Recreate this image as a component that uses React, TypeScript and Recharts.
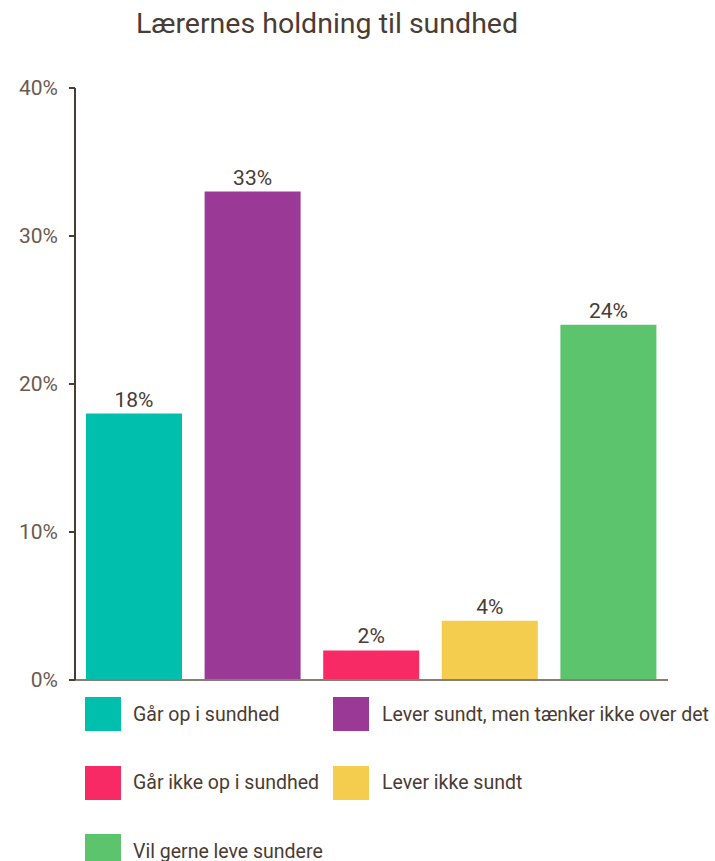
import { Bar, BarChart, Cell, LabelList, XAxis, YAxis } from "recharts";

const categories = [
  "Går op i sundhed",
  "Lever sundt, men tænker ikke over det",
  "Går ikke op i sundhed",
  "Lever ikke sundt",
  "Vil gerne leve sundere",
];
const shares = [18, 33, 2, 4, 24];
const colors = ["#00bfad", "#9a3a96", "#f72a66", "#f4cc4e", "#5cc46c"];
const yTicks = [0, 10, 20, 30, 40];

const textColor = "#4a3b33";
const font = "Roboto, 'Noto Sans', sans-serif";

const data = categories.map((name, i) => ({ name, value: shares[i] }));

export default function App() {
  return (
    <div style={{ position: "absolute", left: 0, top: 0, width: 715, height: 861, background: "#fff", fontFamily: font }}>
      <div style={{ position: "absolute", left: 136, top: 8, fontSize: 28.5, lineHeight: "32px", color: textColor, whiteSpace: "nowrap" }}>
        Lærernes holdning til sundhed
      </div>
      <div style={{ position: "absolute", left: 0, top: 0 }}>
        <BarChart width={715} height={700} data={data} margin={{ top: 88, right: 47, bottom: 19, left: 15 }} barSize={96}>
          <XAxis dataKey="name" tick={false} tickLine={false} height={1} axisLine={{ stroke: "#8a7d75", strokeWidth: 2 }} />
          <YAxis
            width={60}
            domain={[0, 40]}
            ticks={yTicks}
            interval={0}
            tickFormatter={(v) => `${v}%`}
            axisLine={{ stroke: textColor, strokeWidth: 2 }}
            tickLine={{ stroke: textColor, strokeWidth: 2 }}
            tickSize={6}
            tickMargin={11}
            tick={{ fill: "#6b5a50", fontSize: 21, fontFamily: font }}
          />
          <Bar dataKey="value" isAnimationActive={false}>
            {data.map((d, i) => (
              <Cell key={d.name} fill={colors[i]} />
            ))}
            <LabelList dataKey="value" position="top" offset={7} formatter={(v: number) => `${v}%`} fill={textColor} fontSize={21} fontFamily={font} />
          </Bar>
        </BarChart>
      </div>
      {categories.map((name, i) => {
        const col = i % 2;
        const row = Math.floor(i / 2);
        return (
          <div key={name} style={{ position: "absolute", left: col === 0 ? 85 : 333, top: 697 + row * 68.5, height: 34, display: "flex", alignItems: "center" }}>
            <div style={{ width: 36, height: 34, background: colors[i] }} />
            <span style={{ marginLeft: col === 0 ? 12 : 13, fontSize: 19.5, color: textColor, whiteSpace: "nowrap" }}>{name}</span>
          </div>
        );
      })}
    </div>
  );
}
